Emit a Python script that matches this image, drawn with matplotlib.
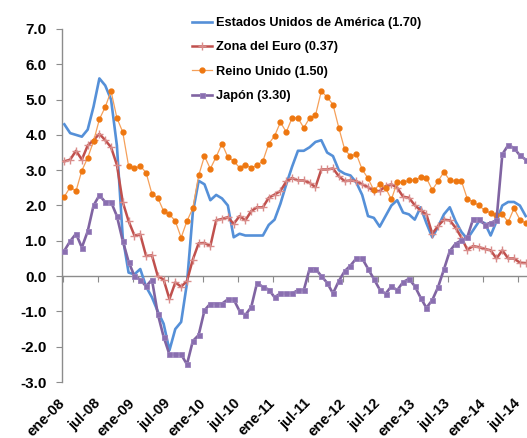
import matplotlib
matplotlib.use("Agg")
import matplotlib.pyplot as plt
import matplotlib.transforms as mtransforms
import numpy as np

plt.rcParams['font.family'] = ['Liberation Sans', 'DejaVu Sans']
plt.rcParams['axes.unicode_minus'] = False

# Monthly data, ene-08 .. ago-14
usa = [4.3, 4.05, 4.0, 3.95, 4.15, 4.8, 5.6, 5.4, 5.0, 3.7, 1.1, 0.1,
       0.05, 0.2, -0.3, -0.6, -1.0, -1.35, -2.1, -1.5, -1.3, -0.2, 1.8, 2.7,
       2.6, 2.15, 2.3, 2.2, 2.0, 1.1, 1.2, 1.15, 1.15, 1.15, 1.15, 1.45,
       1.6, 2.05, 2.6, 3.1, 3.55, 3.55, 3.65, 3.8, 3.85, 3.5, 3.4, 3.0,
       2.9, 2.85, 2.65, 2.3, 1.7, 1.65, 1.4, 1.7, 2.0, 2.15, 1.8, 1.75,
       1.6, 1.95, 1.5, 1.1, 1.4, 1.75, 1.95, 1.55, 1.25, 1.05, 1.3, 1.55,
       1.5, 1.15, 1.55, 2.0, 2.1, 2.1, 2.0, 1.7]
euro = [3.25, 3.3, 3.55, 3.3, 3.7, 3.85, 4.03, 3.85, 3.65, 3.15, 2.1, 1.56,
        1.15, 1.18, 0.57, 0.59, 0.0, -0.1, -0.65, -0.18, -0.3, -0.14, 0.47, 0.93,
        0.94, 0.85, 1.58, 1.62, 1.67, 1.48, 1.7, 1.58, 1.84, 1.95, 1.95, 2.22,
        2.31, 2.41, 2.68, 2.78, 2.71, 2.71, 2.64, 2.52, 3.02, 3.02, 3.05, 2.83,
        2.69, 2.71, 2.69, 2.6, 2.52, 2.41, 2.41, 2.55, 2.6, 2.5, 2.25, 2.22,
        2.01, 1.86, 1.75, 1.2, 1.42, 1.6, 1.58, 1.37, 1.09, 0.75, 0.85, 0.82,
        0.77, 0.73, 0.5, 0.73, 0.5, 0.5, 0.38, 0.37]
uk = [2.25, 2.52, 2.41, 2.99, 3.35, 3.82, 4.44, 4.79, 5.24, 4.48, 4.08, 3.12,
      3.05, 3.12, 2.93, 2.33, 2.22, 1.84, 1.75, 1.56, 1.09, 1.56, 1.92, 2.85,
      3.4, 3.04, 3.38, 3.75, 3.37, 3.26, 3.07, 3.16, 3.07, 3.14, 3.26, 3.75,
      3.97, 4.36, 4.08, 4.48, 4.48, 4.2, 4.48, 4.55, 5.24, 5.07, 4.86, 4.2,
      3.59, 3.4, 3.46, 3.02, 2.77, 2.43, 2.6, 2.5, 2.17, 2.66, 2.66, 2.71,
      2.72, 2.8, 2.78, 2.44, 2.69, 2.95, 2.71, 2.69, 2.69, 2.19, 2.1, 2.0,
      1.86, 1.79, 1.72, 1.75, 1.53, 1.92, 1.6, 1.5]
japan = [0.72, 0.99, 1.2, 0.81, 1.27, 2.0, 2.29, 2.1, 2.1, 1.7, 1.0, 0.41,
         0.0, -0.1, -0.29, -0.1, -1.07, -1.72, -2.22, -2.22, -2.22, -2.5, -1.84, -1.67,
         -0.97, -0.78, -0.78, -0.78, -0.66, -0.66, -0.99, -1.1, -0.88, -0.19, -0.31, -0.38,
         -0.6, -0.49, -0.49, -0.49, -0.4, -0.4, 0.21, 0.21, 0.0, -0.19, -0.49, -0.14,
         0.14, 0.3, 0.5, 0.5, 0.21, -0.08, -0.38, -0.5, -0.29, -0.4, -0.17, -0.08,
         -0.28, -0.61, -0.9, -0.68, -0.31, 0.19, 0.71, 0.92, 1.01, 1.1, 1.62, 1.62,
         1.46, 1.51, 1.58, 3.45, 3.71, 3.63, 3.42, 3.3]

labels = ["Estados Unidos de América (1.70)", "Zona del Euro (0.37)",
          "Reino Unido (1.50)", "Japón (3.30)"]
tick_labels = ["ene-08", "jul-08", "ene-09", "jul-09", "ene-10", "jul-10", "ene-11",
               "jul-11", "ene-12", "jul-12", "ene-13", "jul-13", "ene-14", "jul-14"]
yticks = [-3.0, -2.0, -1.0, 0.0, 1.0, 2.0, 3.0, 4.0, 5.0, 6.0, 7.0]

W, H = 527, 438
fig = plt.figure(figsize=(W / 100, H / 100), dpi=100)
ax = fig.add_axes([62 / W, (H - 382) / H, (W - 62) / W, (382 - 29) / H])

x = np.arange(len(usa))
ax.plot(x, usa, color='#5590D8', lw=1.9, label=labels[0], zorder=3)
ax.plot(x, euro, color='#C0504D', lw=1.8, marker='+', ms=6, mew=1.0,
        mec='#D98C8A', label=labels[1], zorder=4)
ax.plot(x, uk, color='#F5A05A', lw=0.9, marker='o', ms=3.5, mfc='#EE7710',
        mec='#EE7710', label=labels[2], zorder=5)
ax.plot(x, japan, color='#8064A2', lw=1.9, marker='s', ms=3.6, mfc='#8A6FB0',
        mec='#9A82BC', mew=0.6, label=labels[3], zorder=6)

ax.set_xlim(-0.4, -0.4 + (W - 62) / 5.84)
ax.set_ylim(-3.0, 7.0)

for s in ['top', 'right']:
    ax.spines[s].set_visible(False)
ax.spines['left'].set_color('#8C8C8C')
ax.spines['bottom'].set_position(('data', 0))
ax.spines['bottom'].set_color('#8C8C8C')
ax.spines['left'].set_linewidth(1.0)
ax.spines['bottom'].set_linewidth(1.0)

ax.set_yticks(yticks)
ax.set_yticklabels([f"{v:.1f}" for v in yticks], fontsize=11, fontweight='bold')
ax.tick_params(axis='y', direction='out', length=4, color='#8C8C8C', pad=7)

tick_pos = [6 * i - 0.25 for i in range(len(tick_labels))]
ax.set_xticks(tick_pos)
ax.set_xticklabels([])
ax.tick_params(axis='x', direction='out', length=4, color='#8C8C8C')

trans = mtransforms.blended_transform_factory(ax.transData, ax.transAxes)
off = mtransforms.ScaledTranslation(5 / 100, -14 / 100, fig.dpi_scale_trans)
for p, t in zip(tick_pos, tick_labels):
    ax.text(p, 0, t, transform=trans + off, rotation=45, ha='right', va='top',
            fontsize=10.5, fontweight='bold')

leg = fig.legend(loc='upper left', bbox_to_anchor=(192 / W, 1 - 17 / H),
                 frameon=False, prop={'weight': 'bold', 'size': 9.2},
                 handlelength=1.6, handletextpad=0.25, labelspacing=0.97,
                 borderpad=0, borderaxespad=0, numpoints=1)

fig.savefig("out.png", dpi=100)
